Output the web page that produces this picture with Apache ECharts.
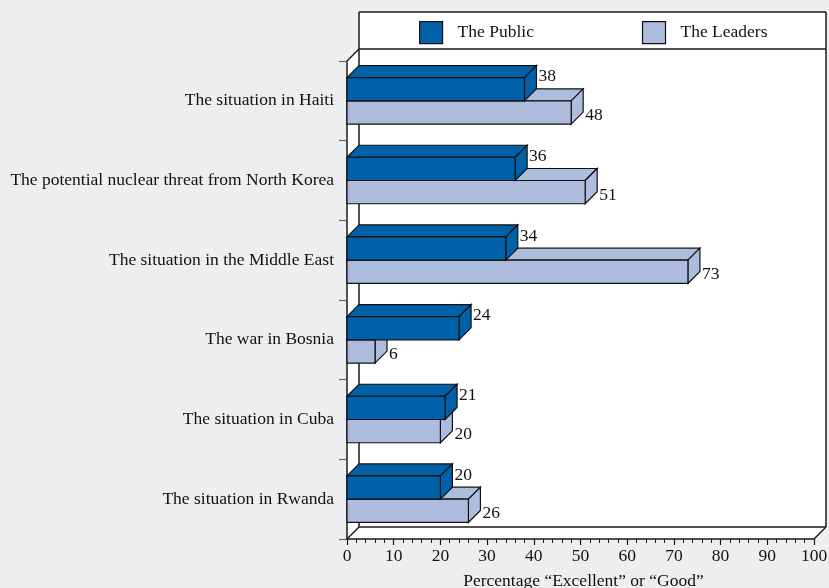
<!DOCTYPE html>
<html>
<head>
<meta charset="utf-8">
<script src="https://cdn.jsdelivr.net/npm/echarts@6/dist/echarts.min.js"></script>
<style>
html,body{margin:0;padding:0;background:#edeef0;}
#chart{width:829px;height:588px;}
</style>
</head>
<body>
<div id="chart"></div>
<script>
const categories = [
  'The situation in Haiti',
  'The potential nuclear threat from North Korea',
  'The situation in the Middle East',
  'The war in Bosnia',
  'The situation in Cuba',
  'The situation in Rwanda'
];
const publicValues = [38, 36, 34, 24, 21, 20];
const leaderValues = [48, 51, 73, 6, 20, 26];
const xTicks = [0, 10, 20, 30, 40, 50, 60, 70, 80, 90, 100];

const FONT = "'Liberation Serif','Times New Roman','DejaVu Serif',serif";
const FS = 17.5;
const PUBLIC_COLOR = '#0060a8';
const LEADER_COLOR = '#aebcdd';
const EDGE = '#111';
const D = 12; // depth offset

const W = 829, H = 588;
const grid = {left: 347, top: 61, right: 15, bottom: 49};
const L = grid.left, T = grid.top, R = W - grid.right, B = H - grid.bottom;

function makeRender(isPublic, color) {
  return function (params, api) {
    const cat = api.value(0);
    const v = api.value(1);
    const base = api.coord([0, cat]);
    const end = api.coord([v, cat]);
    const band = api.size([0, 1])[1];
    const h = band * 0.292;
    const y0 = isPublic ? base[1] - h : base[1];
    const y1 = y0 + h;
    const x0 = base[0], x1 = end[0];
    const st = {fill: color, stroke: EDGE, lineWidth: 1.2, lineJoin: 'miter'};
    return {
      type: 'group',
      children: [
        {type: 'polygon', shape: {points: [[x0, y0], [x0 + D, y0 - D], [x1 + D, y0 - D], [x1, y0]]}, style: st},
        {type: 'polygon', shape: {points: [[x1, y0], [x1 + D, y0 - D], [x1 + D, y1 - D], [x1, y1]]}, style: st},
        {type: 'polygon', shape: {points: [[x0, y0], [x1, y0], [x1, y1], [x0, y1]]}, style: st},
        {type: 'text', style: {
          text: String(v), x: x1 + D + 2, y: isPublic ? (y0 + y1) / 2 - 12.5 : (y0 + y1) / 2 + 3,
          fill: '#111', font: FS + 'px ' + FONT, textAlign: 'left', textVerticalAlign: 'middle'
        }}
      ]
    };
  };
}

const lineStyle = {stroke: '#1a1a1a', lineWidth: 1.5};
function seg(x1, y1, x2, y2) {
  return {type: 'line', z: 1, silent: true, shape: {x1, y1, x2, y2}, style: lineStyle};
}

const chart = echarts.init(document.getElementById('chart'), null, {renderer: 'canvas'});
chart.setOption({
  backgroundColor: '#edeef0',
  animation: false,
  textStyle: {fontFamily: FONT},
  grid: {left: grid.left, top: grid.top, right: grid.right, bottom: grid.bottom,
         containLabel: false, outerBoundsMode: 'none'},
  legend: {
    left: 419, top: 21, padding: 0,
    icon: 'rect', itemWidth: 23, itemHeight: 22, itemGap: 108,
    selectedMode: false,
    textStyle: {fontFamily: FONT, fontSize: FS, color: '#111', padding: [0, 0, 0, 10]},
    data: [
      {name: 'The Public', itemStyle: {color: PUBLIC_COLOR, borderColor: EDGE, borderWidth: 1.2}},
      {name: 'The Leaders', itemStyle: {color: LEADER_COLOR, borderColor: EDGE, borderWidth: 1.2}}
    ]
  },
  xAxis: {
    type: 'value', min: xTicks[0], max: xTicks[xTicks.length - 1], interval: 10,
    axisLine: {show: true, lineStyle: {color: '#1a1a1a', width: 1.5}},
    axisTick: {show: true, length: 6, lineStyle: {color: '#1a1a1a', width: 1.2}},
    minorTick: {show: true, splitNumber: 5, length: 4, lineStyle: {color: '#1a1a1a', width: 1}},
    splitLine: {show: false},
    axisLabel: {fontFamily: FONT, fontSize: FS, color: '#111', margin: 8},
    name: 'Percentage \u201cExcellent\u201d or \u201cGood\u201d',
    nameLocation: 'middle', nameGap: 33,
    nameTextStyle: {fontFamily: FONT, fontSize: FS, color: '#111', padding: [0, 0, 0, 6]}
  },
  yAxis: {
    type: 'category', data: categories, inverse: true,
    axisLine: {show: true, lineStyle: {color: '#1a1a1a', width: 1.5}},
    axisTick: {show: true, length: 8, lineStyle: {color: '#666', width: 1.2}},
    axisLabel: {fontFamily: FONT, fontSize: FS, color: '#111', margin: 13},
    splitLine: {show: false}
  },
  graphic: [
    {type: 'polygon', z: -1, silent: true,
     shape: {points: [[L + D, 12], [R + D, 12], [R + D, B - D], [R, B], [L, B], [L, T], [L + D, T - D]]},
     style: {fill: '#ffffff'}},
    seg(L + D, 12, R + D, 12),
    seg(R + D, 12, R + D, B - D),
    seg(L + D, T - D, R + D, T - D),
    seg(L + D, 12, L + D, B - D),
    seg(L + D, B - D, R + D, B - D),
    seg(R, B, R + D, B - D),
    seg(L, B, L + D, B - D),
    seg(L, T, L + D, T - D)
  ],
  series: [
    {
      name: 'The Leaders', type: 'custom', silent: true,
      itemStyle: {color: LEADER_COLOR},
      renderItem: makeRender(false, LEADER_COLOR),
      encode: {x: 1, y: 0},
      data: leaderValues.map((v, i) => [i, v])
    },
    {
      name: 'The Public', type: 'custom', silent: true,
      itemStyle: {color: PUBLIC_COLOR},
      renderItem: makeRender(true, PUBLIC_COLOR),
      encode: {x: 1, y: 0},
      data: publicValues.map((v, i) => [i, v])
    }
  ]
});
</script>
</body>
</html>
